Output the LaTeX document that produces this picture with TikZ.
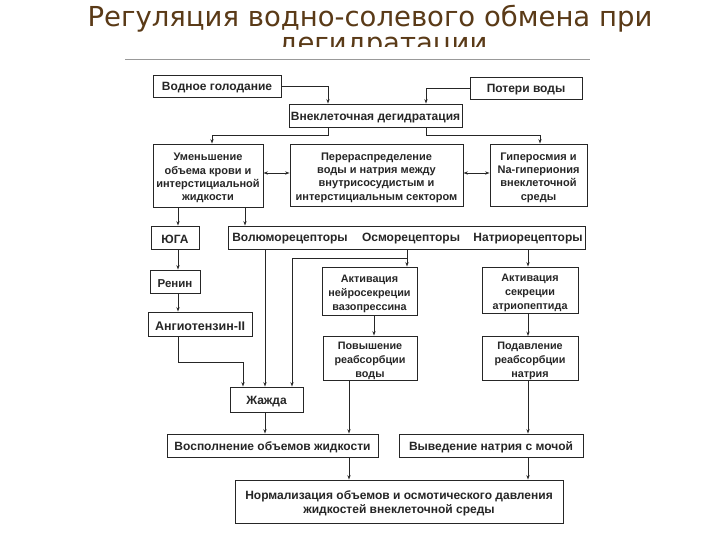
\documentclass[tikz,border=0pt]{standalone}
\usepackage{fontspec}
\setmainfont{DejaVu Sans}
\newfontfamily\lsans{Liberation Sans}
\usetikzlibrary{arrows.meta,calc}
\definecolor{titlebrown}{HTML}{5A3A17}
\definecolor{ink}{HTML}{262626}
\newcommand{\mlines}[1]{\raisebox{-2.5pt}[\height][\depth]{\begin{tabular}{@{}c@{}}#1\end{tabular}}}
\newcommand{\oneln}[1]{\raisebox{-2pt}[\height][\depth]{#1}}
\begin{document}
\begin{tikzpicture}[x=1pt,y=-1pt,
 box/.style={draw=ink, line width=0.9pt, fill=white, inner sep=1pt, text=ink, font=\lsans\bfseries\fontsize{11}{13.3}\selectfont},
 bigf/.style={font=\lsans\bfseries\fontsize{12}{14}\selectfont},
 tallf/.style={font=\lsans\bfseries\fontsize{10.8}{14}\selectfont},
 lbl/.style={inner sep=0pt, text=ink, font=\lsans\bfseries\fontsize{12}{14}\selectfont},
 arr/.style={draw=ink, line width=0.8pt, -{Stealth[length=4.5pt,width=3.2pt]}},
 dbl/.style={draw=ink, line width=0.8pt, {Stealth[length=4.5pt,width=3.2pt]}-{Stealth[length=4.5pt,width=3.2pt]}},
 ttl/.style={inner sep=0pt, anchor=base, text=titlebrown, font=\fontsize{27.5}{27}\selectfont}]
\useasboundingbox (0,0) rectangle (720,540);
\fill[white] (0,0) rectangle (720,540);
\node[ttl] (t1) at (370,27) {Регуляция водно-солевого обмена при};
\node[ttl] (t2) at (383,53) {дегидратации};
\fill[white] (120,47) rectangle (600,540);
\coordinate (r1) at (125,59); \coordinate (r2) at (590,59);
\draw[black!40, line width=0.8pt] (r1) -- (r2);

% boxes
\node[box,bigf,minimum width=128pt,minimum height=22pt] (vg) at (217,86) {\oneln{Водное голодание}};
\node[box,bigf,minimum width=112pt,minimum height=22pt] (pv) at (526,88) {\oneln{Потери воды}};
\node[box,bigf,minimum width=173pt,minimum height=23pt] (vd) at (375.5,115.5) {\oneln{Внеклеточная дегидратация}};
\node[box,minimum width=110pt,minimum height=63pt] (um) at (208,175.5) {\mlines{Уменьшение\\объема крови и\\интерстициальной\\жидкости}};
\node[box,minimum width=173pt,minimum height=62pt] (pr) at (376.5,175) {\mlines{Перераспределение\\воды и натрия между\\внутрисосудистым и\\интерстициальным сектором}};
\node[box,minimum width=97pt,minimum height=62pt] (gi) at (538.5,175) {\mlines{Гиперосмия и\\Na-гипериония\\внеклеточной\\среды}};
\node[box,bigf,minimum width=48pt,minimum height=23pt] (yuga) at (175,237.5) {\oneln{ЮГА}};
\node[box,minimum width=357pt,minimum height=23pt] (rec) at (406.5,237.5) {};
\node[lbl] (volr) at (290,239) {Волюморецепторы};
\node[lbl] (osmr) at (411,239) {Осморецепторы};
\node[lbl] (natr) at (528,239) {Натриорецепторы};
\node[box,bigf,font=\lsans\bfseries\fontsize{11.5}{14}\selectfont,minimum width=50pt,minimum height=23pt] (ren) at (175,281.5) {\oneln{Ренин}};
\node[box,font=\lsans\bfseries\fontsize{12.5}{14}\selectfont,minimum width=104pt,minimum height=24pt] (ang) at (200,324) {\oneln{Ангиотензин-II}};
\node[box,bigf,minimum width=73pt,minimum height=25pt] (zh) at (266.5,399.5) {\oneln{Жажда}};
\node[box,tallf,minimum width=95pt,minimum height=48pt] (an) at (369.5,291) {\mlines{Активация\\нейросекреции\\вазопрессина}};
\node[box,tallf,minimum width=96pt,minimum height=46pt] (as) at (530,290) {\mlines{Активация\\секреции\\атриопептида}};
\node[box,tallf,minimum width=94pt,minimum height=42pt] (pov) at (370,358) {\mlines{Повышение\\реабсорбции\\воды}};
\node[box,tallf,minimum width=96pt,minimum height=43pt] (pod) at (530,358.5) {\mlines{Подавление\\реабсорбции\\натрия}};
\node[box,bigf,minimum width=211pt,minimum height=23pt] (vos) at (272.5,445.5) {\oneln{Восполнение объемов жидкости}};
\node[box,bigf,minimum width=184pt,minimum height=23pt] (vyv) at (491,445.5) {\oneln{Выведение натрия с мочой}};
\node[box,bigf,minimum width=328pt,minimum height=43pt] (norm) at (399,501.5) {\mlines{Нормализация объемов и осмотического давления\\жидкостей внеклеточной среды}};

% junction coordinates
\coordinate (xa) at (328,0); \coordinate (xb) at (426,0);
\coordinate (ya) at (0,135); \coordinate (xc) at (212,0); \coordinate (xd) at (540,0);
\coordinate (yb) at (0,173);
\coordinate (xe) at (178,0); \coordinate (xf) at (245,0);
\coordinate (yd) at (0,362); \coordinate (xg) at (243,0);
\coordinate (xh) at (265,0);
\coordinate (xi) at (407,0); \coordinate (ye) at (0,258); \coordinate (xj) at (292,0);
\coordinate (xk) at (528,0); \coordinate (xl) at (374,0); \coordinate (xm) at (349,0);

% connectors
\draw[arr] (vg.east) -| (vd.north -| xa);
\draw[arr] (pv.west) -| (vd.north -| xb);
\draw[arr] (vd.south -| xa) |- (ya -| xc) -- (um.north -| xc);
\draw[arr] (vd.south -| xb) |- (ya -| xd) -- (gi.north -| xd);
\draw[dbl] (um.east |- yb) -- (pr.west |- yb);
\draw[dbl] (pr.east |- yb) -- (gi.west |- yb);
\draw[arr] (um.south -| xe) -- (yuga.north -| xe);
\draw[arr] (um.south -| xf) -- (rec.north -| xf);
\draw[arr] (yuga.south -| xe) -- (ren.north -| xe);
\draw[arr] (ren.south -| xe) -- (ang.north -| xe);
\draw[arr] (ang.south -| xe) |- (yd -| xg) -- (zh.north -| xg);
\draw[arr] (rec.south -| xh) -- (zh.north -| xh);
\draw[arr] (rec.south -| xi) -- (an.north -| xi);
\draw[arr] (ye -| xi) -| (zh.north -| xj);
\draw[arr] (rec.south -| xk) -- (as.north -| xk);
\draw[arr] (an.south -| xl) -- (pov.north -| xl);
\draw[arr] (as.south -| xk) -- (pod.north -| xk);
\draw[arr] (zh.south -| xh) -- (vos.north -| xh);
\draw[arr] (pov.south -| xm) -- (vos.north -| xm);
\draw[arr] (pod.south -| xk) -- (vyv.north -| xk);
\draw[arr] (vos.south -| xm) -- (norm.north -| xm);
\draw[arr] (vyv.south -| xk) -- (norm.north -| xk);
\end{tikzpicture}
\end{document}
